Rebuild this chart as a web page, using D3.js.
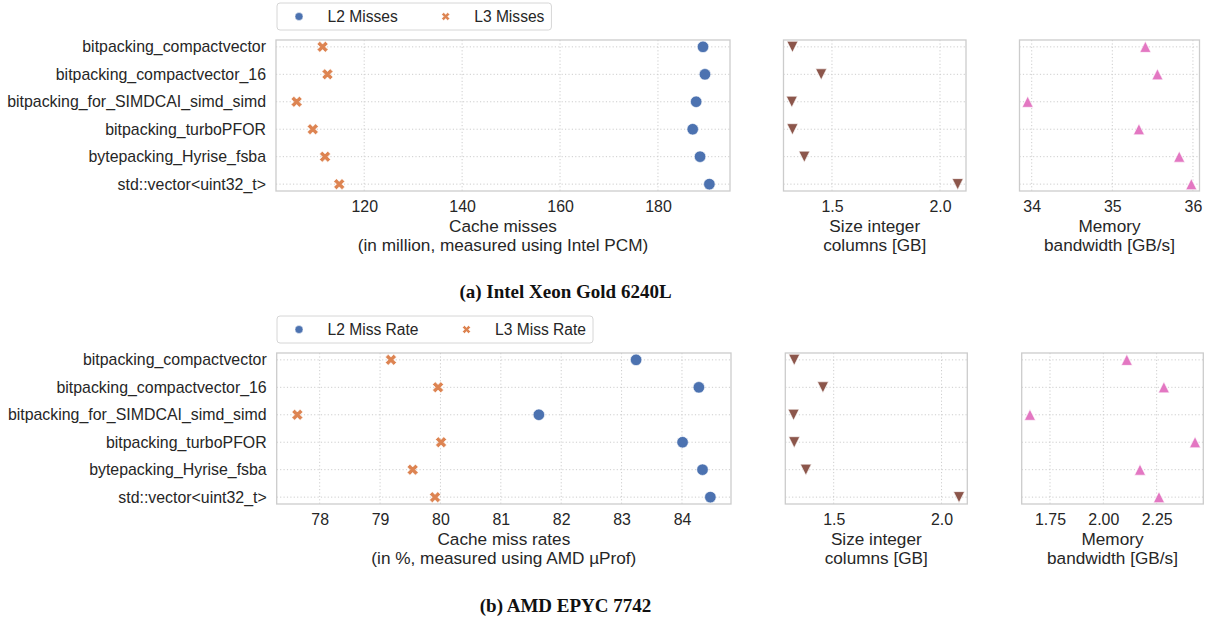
<!DOCTYPE html>
<html>
<head>
<meta charset="utf-8">
<script src="https://cdn.jsdelivr.net/npm/d3@7"></script>
<style>
  body { margin: 0; background: #fff; }
  svg { display: block; font-family: "Liberation Sans", Arial, sans-serif; }
</style>
</head>
<body>
<div id="chart"></div>
<script>
// Categories (same order in both rows)
const methods = [
  "bitpacking_compactvector",
  "bitpacking_compactvector_16",
  "bitpacking_for_SIMDCAI_simd_simd",
  "bitpacking_turboPFOR",
  "bytepacking_Hyrise_fsba",
  "std::vector<uint32_t>"
];

// (a) Intel Xeon Gold 6240L
const intelL2Misses = [189.2, 189.6, 187.8, 187.1, 188.6, 190.5];
const intelL3Misses = [111.5, 112.5, 106.2, 109.5, 112.0, 114.9];
const intelSize = [1.317, 1.45, 1.314, 1.317, 1.372, 2.082];
const intelBandwidth = [35.41, 35.56, 33.95, 35.33, 35.83, 35.98];

// (b) AMD EPYC 7742
const amdL2Rate = [83.24, 84.28, 81.63, 84.01, 84.34, 84.47];
const amdL3Rate = [79.18, 79.96, 77.63, 80.01, 79.54, 79.91];
const amdSize = [1.317, 1.45, 1.314, 1.317, 1.371, 2.081];
const amdBandwidth = [2.11, 2.284, 1.656, 2.43, 2.172, 2.261];

// Tick values
const intelMissTicks = [120, 140, 160, 180];
const amdRateTicks = [78, 79, 80, 81, 82, 83, 84];
const sizeTicks = [1.5, 2.0];
const intelBwTicks = [34, 35, 36];
const amdBwTicks = [1.75, 2.00, 2.25];

const width = 1209, height = 618;
const textColor = "#262626";
const gridColor = "#cdcdcd";
const frameColor = "#cccccc";
const tickFont = "15.9px";
const labelFont = "17.2px";
const legendFont = "15.6px";

const colors = { l2: "#4c72b0", l3: "#dd8452", size: "#8c564b", bw: "#e377c2" };

const svg = d3.select("#chart").append("svg")
  .attr("width", width)
  .attr("height", height);

// matplotlib-like marker shapes as d3 symbol types (size = marker width in px)
const markerX = {
  draw(ctx, s) {
    const p = [[-0.25,-0.5],[0,-0.25],[0.25,-0.5],[0.5,-0.25],[0.25,0],[0.5,0.25],
               [0.25,0.5],[0,0.25],[-0.25,0.5],[-0.5,0.25],[-0.25,0],[-0.5,-0.25]];
    ctx.moveTo(p[0][0] * s, p[0][1] * s);
    p.slice(1).forEach(d => ctx.lineTo(d[0] * s, d[1] * s));
    ctx.closePath();
  }
};
const markerTriUp = {
  draw(ctx, s) {
    const h = s / 2;
    ctx.moveTo(0, -h); ctx.lineTo(h, h); ctx.lineTo(-h, h); ctx.closePath();
  }
};
const markerTriDown = {
  draw(ctx, s) {
    const h = s / 2;
    ctx.moveTo(0, h); ctx.lineTo(h, -h); ctx.lineTo(-h, -h); ctx.closePath();
  }
};
const markerCircle = {
  draw(ctx, s) {
    const r = s / 2;
    ctx.moveTo(r, 0); ctx.arc(0, 0, r, 0, 2 * Math.PI);
  }
};

// x-domain like matplotlib autoscale: data extent with 5% margins
function paddedDomain(arrays) {
  const [lo, hi] = d3.extent(arrays.flat());
  const pad = (hi - lo) * 0.05;
  return [lo - pad, hi + pad];
}

function drawPanel(cfg) {
  const g = svg.append("g");
  const x = d3.scaleLinear()
    .domain(paddedDomain(cfg.series.map(s => s.values)))
    .range([cfg.left, cfg.right]);
  const y = d3.scalePoint()
    .domain(methods)
    .range([cfg.top, cfg.bottom])
    .padding(0.25);

  // vertical grid
  g.append("g")
    .selectAll("line")
    .data(cfg.ticks)
    .join("line")
    .attr("x1", d => x(d)).attr("x2", d => x(d))
    .attr("y1", cfg.top).attr("y2", cfg.bottom)
    .attr("stroke", gridColor).attr("stroke-width", 1)
    .attr("stroke-dasharray", "1.2,2.2");

  // horizontal grid
  g.append("g")
    .selectAll("line")
    .data(methods)
    .join("line")
    .attr("x1", cfg.left).attr("x2", cfg.right)
    .attr("y1", d => y(d)).attr("y2", d => y(d))
    .attr("stroke", gridColor).attr("stroke-width", 1)
    .attr("stroke-dasharray", "1.2,2.2");

  // x axis (no tick marks, only labels)
  const xAxis = g.append("g")
    .attr("transform", `translate(0,${cfg.bottom})`)
    .call(d3.axisBottom(x).tickValues(cfg.ticks).tickFormat(d3.format(cfg.format))
      .tickSize(0).tickPadding(10));
  xAxis.select(".domain").remove();
  xAxis.selectAll("text")
    .attr("fill", textColor)
    .style("font-size", tickFont)
    .style("font-family", "Liberation Sans, Arial, sans-serif");

  // y labels only for first panel
  if (cfg.names) {
    g.append("g")
      .selectAll("text")
      .data(methods)
      .join("text")
      .attr("x", cfg.left - 10)
      .attr("y", d => y(d))
      .attr("dy", "0.35em")
      .attr("text-anchor", "end")
      .attr("fill", textColor)
      .style("font-size", tickFont)
      .text(d => d);
  }

  // markers
  cfg.series.forEach(s => {
    g.append("g")
      .selectAll("path")
      .data(s.values)
      .join("path")
      .attr("transform", (d, i) => `translate(${x(d)},${y(methods[i])})`)
      .attr("d", d3.symbol().type(s.symbol).size(s.size))
      .attr("fill", s.color)
      .attr("stroke", "white")
      .attr("stroke-width", 0.6);
  });

  // frame
  g.append("rect")
    .attr("x", cfg.left).attr("y", cfg.top)
    .attr("width", cfg.right - cfg.left)
    .attr("height", cfg.bottom - cfg.top)
    .attr("fill", "none")
    .attr("stroke", frameColor)
    .attr("stroke-width", 1.3);

  // axis title (two lines)
  const cx = (cfg.left + cfg.right) / 2;
  g.append("text")
    .attr("x", cx)
    .attr("y", cfg.bottom + 41)
    .attr("text-anchor", "middle")
    .attr("fill", textColor)
    .style("font-size", labelFont)
    .selectAll("tspan")
    .data(cfg.label)
    .join("tspan")
    .attr("x", cx)
    .attr("dy", (d, i) => i === 0 ? 0 : 19.3)
    .text(d => d);
}

function drawLegend(x0, y0, items) {
  const g = svg.append("g");
  const box = g.append("rect")
    .attr("x", x0).attr("y", y0)
    .attr("height", 27)
    .attr("rx", 3)
    .attr("fill", "white")
    .attr("stroke", "#d6d6d6")
    .attr("stroke-width", 1);
  let cx = x0 + 22;
  items.forEach(it => {
    g.append("path")
      .attr("transform", `translate(${cx},${y0 + 13.5})`)
      .attr("d", d3.symbol().type(it.symbol).size(it.size))
      .attr("fill", it.color)
      .attr("stroke", "white")
      .attr("stroke-width", 0.5);
    const t = g.append("text")
      .attr("x", cx + 28.5)
      .attr("y", y0 + 13.5)
      .attr("dy", "0.35em")
      .attr("fill", textColor)
      .style("font-size", legendFont)
      .text(it.label);
    const end = cx + 28.5 + t.node().getComputedTextLength();
    cx = end + 48;
    box.attr("width", end + 7 - x0);
  });
}

function drawCaption(cx, cy, text) {
  svg.append("text")
    .attr("x", cx)
    .attr("y", cy)
    .attr("dy", "0.35em")
    .attr("text-anchor", "middle")
    .attr("fill", "#111")
    .style("font-family", "Liberation Serif, 'DejaVu Serif', serif")
    .style("font-weight", "bold")
    .style("font-size", "19px")
    .text(text);
}

// ---- (a) Intel ----
drawLegend(277, 3, [
  { label: "L2 Misses", color: colors.l2, symbol: markerCircle, size: 8 },
  { label: "L3 Misses", color: colors.l3, symbol: markerX, size: 8 }
]);
drawPanel({
  left: 276, right: 730, top: 40, bottom: 191, names: true,
  ticks: intelMissTicks, format: "d",
  label: ["Cache misses", "(in million, measured using Intel PCM)"],
  series: [
    { values: intelL2Misses, color: colors.l2, symbol: markerCircle, size: 11.5 },
    { values: intelL3Misses, color: colors.l3, symbol: markerX, size: 11 }
  ]
});
drawPanel({
  left: 783.5, right: 966, top: 40, bottom: 191,
  ticks: sizeTicks, format: ".1f",
  label: ["Size integer", "columns [GB]"],
  series: [{ values: intelSize, color: colors.size, symbol: markerTriDown, size: 11 }]
});
drawPanel({
  left: 1019.5, right: 1199.5, top: 40, bottom: 191,
  ticks: intelBwTicks, format: "d",
  label: ["Memory", "bandwidth [GB/s]"],
  series: [{ values: intelBandwidth, color: colors.bw, symbol: markerTriUp, size: 11 }]
});
drawCaption(565.5, 291, "(a) Intel Xeon Gold 6240L");

// ---- (b) AMD ----
drawLegend(277, 316, [
  { label: "L2 Miss Rate", color: colors.l2, symbol: markerCircle, size: 8 },
  { label: "L3 Miss Rate", color: colors.l3, symbol: markerX, size: 8 }
]);
drawPanel({
  left: 276.7, right: 731, top: 353, bottom: 504, names: true,
  ticks: amdRateTicks, format: "d",
  label: ["Cache miss rates", "(in %, measured using AMD \u00b5Prof)"],
  series: [
    { values: amdL2Rate, color: colors.l2, symbol: markerCircle, size: 11.5 },
    { values: amdL3Rate, color: colors.l3, symbol: markerX, size: 11 }
  ]
});
drawPanel({
  left: 785.3, right: 967.3, top: 353, bottom: 504,
  ticks: sizeTicks, format: ".1f",
  label: ["Size integer", "columns [GB]"],
  series: [{ values: amdSize, color: colors.size, symbol: markerTriDown, size: 11 }]
});
drawPanel({
  left: 1021.7, right: 1203.3, top: 353, bottom: 504,
  ticks: amdBwTicks, format: ".2f",
  label: ["Memory", "bandwidth [GB/s]"],
  series: [{ values: amdBandwidth, color: colors.bw, symbol: markerTriUp, size: 11 }]
});
drawCaption(565.5, 605, "(b) AMD EPYC 7742");
</script>
</body>
</html>
